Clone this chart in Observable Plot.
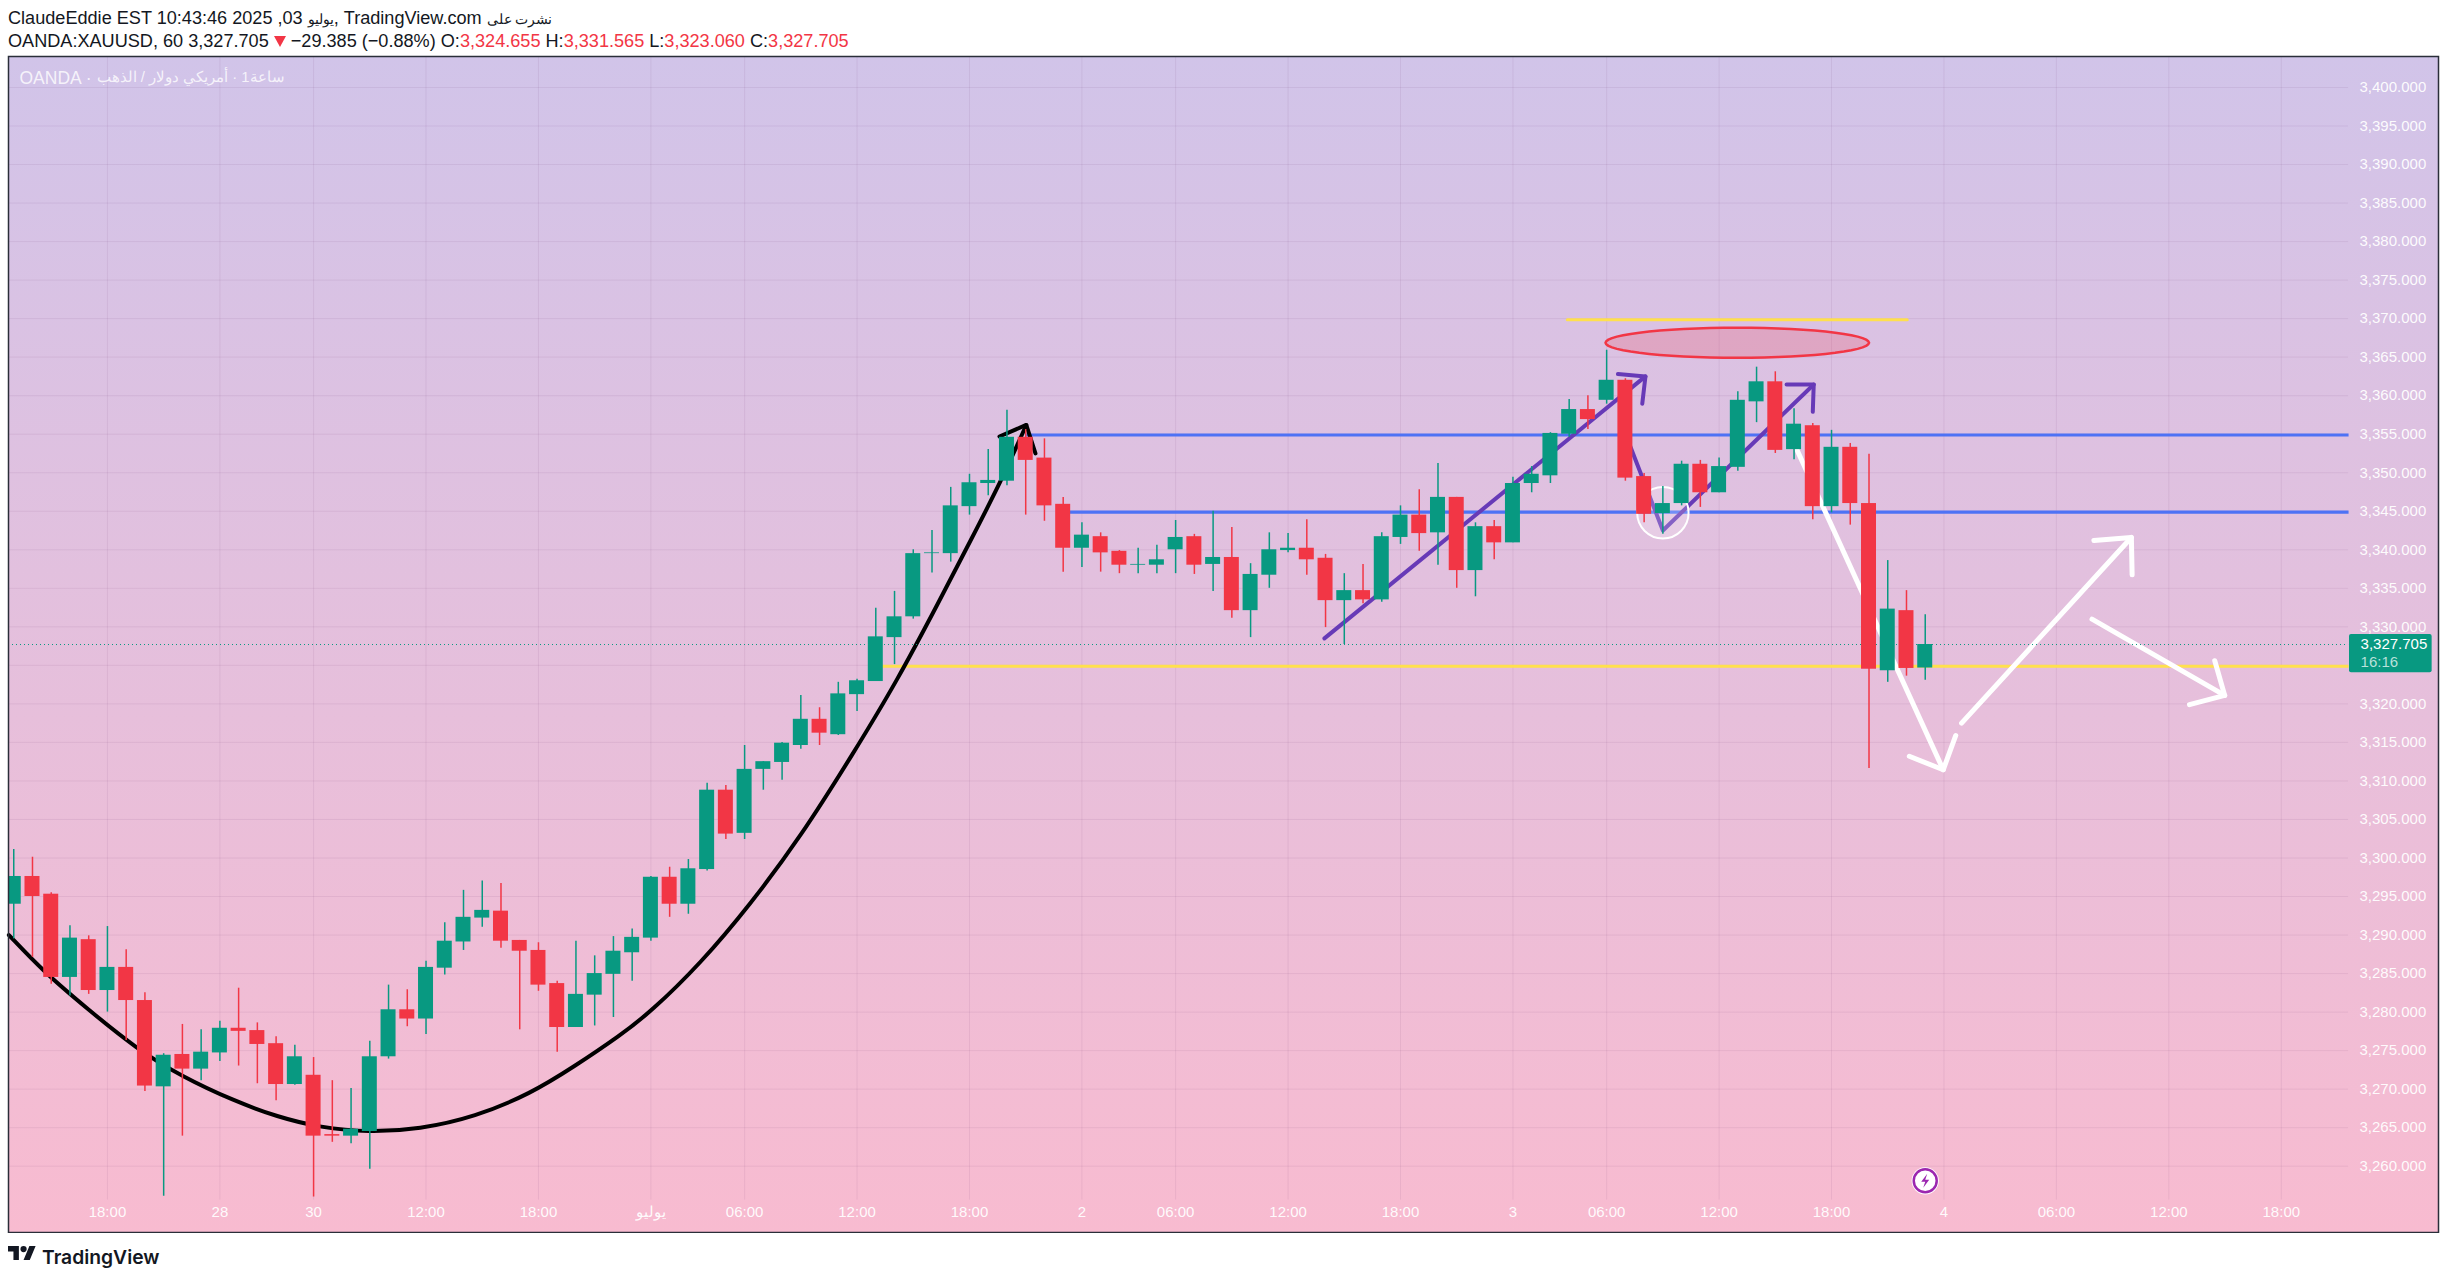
<!DOCTYPE html>
<html>
<head>
<meta charset="utf-8">
<script src="https://cdn.jsdelivr.net/npm/d3@7"></script>
<script src="https://cdn.jsdelivr.net/npm/@observablehq/plot@0.6"></script>
<style>
html,body{margin:0;padding:0;background:#fff;width:2447px;height:1279px;overflow:hidden;font-family:"Liberation Sans",Arial,sans-serif;color:#131722}
#head{position:relative;height:55px;font-size:18.12px;line-height:23px}
#head div{position:absolute;left:8px;white-space:nowrap}
#head bdi{font-size:13.5px}
#l1{top:7px}#l2{top:30px}
#head b{font-weight:400;color:#F23645}
#head svg{vertical-align:0px}
#chart{height:1178px}
#chart svg{display:block}
#foot{position:relative;height:46px}
#foot svg{position:absolute;left:8px;top:13px}
#foot span{position:absolute;left:42px;top:10px;font:600 19.3px/28px Inter,"Liberation Sans",sans-serif;color:#131722}
</style>
</head>
<body>
<div id="head">
<div id="l1">ClaudeEddie EST 10:43:46 2025 ,03 <bdi>يوليو</bdi>, TradingView.com <bdi>نشرت على</bdi></div>
<div id="l2">OANDA:XAUUSD, 60 3,327.705 <svg width="12" height="11" viewBox="0 0 12 11"><path fill="#F23645" d="M0 0h12L6 11z"/></svg> −29.385 (−0.88%) O:<b>3,324.655</b> H:<b>3,331.565</b> L:<b>3,323.060</b> C:<b>3,327.705</b></div>
</div>
<div id="chart"></div>
<div id="foot">
<svg width="28" height="14" viewBox="0 4 36 18"><path fill="#131722" d="M14 22H7V11H0V4h14v18zM28 22h-8l7.5-18h8L28 22z"/><circle fill="#131722" cx="20" cy="8" r="4"/></svg>
<span>TradingView</span>
</div>
<script>
// hourly candles
const opens = [3294.0,3297.6,3295.3,3284.5,3289.4,3282.8,3285.8,3281.5,3270.3,3274.5,3272.6,3274.7,3277.9,3277.6,3275.9,3270.6,3271.8,3264.1,3263.9,3264.5,3274.2,3280.3,3279.1,3285.7,3289.1,3292.2,3293.1,3289.3,3288.0,3283.7,3278.0,3282.2,3284.9,3287.7,3289.6,3297.5,3294.0,3298.5,3308.8,3303.2,3311.5,3312.4,3314.6,3318.0,3316.0,3321.2,3322.9,3328.6,3331.3,3339.5,3339.5,3345.6,3348.6,3348.9,3354.6,3351.9,3345.9,3340.2,3341.7,3339.8,3338.0,3338.0,3340.0,3341.7,3338.1,3339.0,3332.1,3336.7,3339.9,3340.2,3338.9,3333.4,3334.7,3333.5,3341.6,3344.5,3342.2,3346.8,3337.3,3343.0,3340.9,3348.6,3349.6,3355.0,3358.2,3359.4,3362.0,3349.5,3344.7,3346.0,3351.1,3347.4,3350.7,3359.2,3361.8,3353.0,3356.1,3345.6,3353.3,3346.0,3324.3,3332.1,3324.655];
const highs = [3301.1,3300.1,3295.5,3291.2,3289.9,3291.1,3288.1,3282.5,3274.6,3278.4,3277.7,3278.8,3283.1,3278.6,3276.8,3275.7,3274.1,3271.1,3270.1,3276.2,3283.5,3282.9,3286.6,3291.6,3295.8,3297.0,3296.7,3289.3,3289.0,3284.0,3289.2,3287.3,3289.8,3290.8,3297.6,3298.8,3299.8,3309.7,3309.4,3314.6,3312.5,3315.0,3321.1,3319.5,3322.8,3323.2,3332.4,3334.6,3340.0,3342.5,3348.1,3349.8,3353.0,3358.1,3355.6,3354.4,3346.8,3343.5,3342.2,3339.9,3340.2,3340.6,3343.8,3342.0,3345.0,3342.9,3338.2,3342.2,3342.1,3343.9,3339.4,3336.9,3338.1,3342.2,3345.7,3347.8,3351.2,3346.8,3343.5,3343.8,3349.4,3350.8,3355.2,3359.5,3360.0,3365.9,3362.2,3349.9,3348.2,3351.5,3351.6,3351.9,3360.5,3363.7,3363.1,3358.3,3356.4,3355.5,3353.8,3352.4,3338.6,3334.7,3331.565];
const lows = [3289.5,3287.1,3283.6,3282.1,3282.3,3280.0,3276.3,3269.7,3256.1,3263.9,3271.1,3273.6,3273.0,3270.7,3268.5,3270.5,3256.0,3263.1,3262.9,3259.6,3273.9,3278.1,3277.1,3284.8,3288.0,3291.0,3288.3,3277.7,3282.7,3274.8,3278.0,3278.2,3279.3,3284.0,3289.2,3292.3,3292.7,3298.3,3302.4,3302.4,3308.8,3310.1,3314.1,3314.6,3315.9,3319.0,3322.9,3325.1,3331.0,3337.0,3338.4,3344.5,3347.0,3348.3,3344.5,3343.7,3337.1,3337.7,3337.1,3336.9,3336.9,3336.9,3336.9,3336.8,3334.6,3331.1,3328.6,3335.0,3339.6,3336.7,3329.9,3327.7,3333.0,3333.2,3340.7,3339.8,3338.0,3335.0,3333.9,3338.7,3340.9,3347.4,3348.6,3354.6,3355.6,3358.9,3348.9,3343.5,3342.0,3345.7,3345.5,3347.4,3350.2,3356.5,3352.5,3351.7,3343.9,3344.8,3343.2,3311.6,3322.8,3323.6,3323.06];
const closes = [3297.6,3295.0,3284.5,3289.6,3282.8,3285.8,3281.5,3270.4,3274.4,3272.6,3274.8,3277.9,3277.5,3275.8,3270.6,3274.2,3263.9,3263.9,3264.8,3274.2,3280.3,3279.1,3285.8,3289.2,3292.3,3293.2,3289.2,3287.9,3283.5,3278.0,3282.3,3285.0,3287.9,3289.7,3297.5,3294.0,3298.6,3308.8,3303.1,3311.5,3312.5,3314.9,3318.0,3316.2,3321.3,3323.0,3328.7,3331.3,3339.5,3339.6,3345.7,3348.7,3349.0,3354.6,3351.6,3345.7,3340.2,3341.9,3339.6,3338.0,3338.1,3338.7,3341.6,3338.0,3339.0,3332.1,3336.8,3340.0,3340.2,3338.7,3333.4,3334.7,3333.5,3341.7,3344.5,3342.1,3346.8,3337.3,3343.0,3340.9,3348.6,3349.8,3355.1,3358.2,3356.9,3362.0,3349.3,3344.6,3346.0,3351.1,3347.4,3350.8,3359.4,3361.8,3352.9,3356.3,3345.6,3353.3,3346.0,3324.5,3332.3,3324.6,3327.705];

// axes
const gridPrices = [3260,3265,3270,3275,3280,3285,3290,3295,3300,3305,3310,3315,3320,3325,3330,3335,3340,3345,3350,3355,3360,3365,3370,3375,3380,3385,3390,3395,3400];
const labelledPrices = [3260,3265,3270,3275,3280,3285,3290,3295,3300,3305,3310,3315,3320,3330,3335,3340,3345,3350,3355,3360,3365,3370,3375,3380,3385,3390,3395,3400];
const timeTickBars = [5,11,16,22,28,34,39,45,51,57,62,68,74,80,85,91,97,103,109,115,121];
const timeTickLabels = ["18:00","28","30","12:00","18:00","يوليو","06:00","12:00","18:00","2","06:00","12:00","18:00","3","06:00","12:00","18:00","4","06:00","12:00","18:00"];

// drawings, as [bar, price]
const blackCurve = [[-0.26,3290.0],[1.61,3285.2],[3.94,3280.4],[6.57,3275.2],[9.0,3271.6],[11.74,3268.5],[14.06,3266.4],[16.38,3265.0],[18.91,3264.4],[21.66,3264.8],[24.61,3266.4],[27.57,3269.4],[29.89,3272.9],[32.38,3277.0],[33.98,3280.0],[36.65,3286.3],[39.31,3294.0],[41.98,3302.7],[44.83,3313.7],[47.14,3323.0],[49.4,3333.4],[51.06,3341.2],[52.71,3349.0],[54.03,3356.2]];
const blackHead = [[52.6,3354.7],[54.03,3356.2],[54.52,3352.5]];
const purpleUp = [[69.94,3328.5],[87.07,3362.5]];
const purpleUpHead = [[85.6,3362.8],[87.07,3362.5],[86.9,3358.95]];
const purpleV = [[86.0,3355.05],[88.0,3342.5],[96.05,3361.45]];
const purpleVHead = [[94.6,3361.45],[96.05,3361.45],[96.0,3357.9]];
const whiteDown = [[95.0,3353.8],[102.96,3311.45]];
const whiteDownHead = [[101.15,3313.2],[102.96,3311.45],[103.63,3315.9]];
const whiteUp = [[103.94,3317.5],[113.0,3341.6]];
const whiteUpHead = [[111.0,3341.2],[113.0,3341.6],[113.04,3336.75]];
const whiteSide = [[110.9,3331.0],[117.98,3321.1]];
const whiteSideHead = [[117.45,3325.6],[117.98,3321.1],[116.1,3319.9]];
const upperBlue = [[54.03,3354.9],[124.59,3354.9]];
const lowerBlue = [[56,3344.9],[124.59,3344.9]];
const mainYellow = [[46,3324.9],[124.59,3324.9]];
const topYellow = [[82.9,3369.85],[101.04,3369.85]];
const ellipseCentre = [91.97,3366.87], ellipseRadii = [7.03,1.95];
const circleCentre = [88.0,3344.8];
const badgeCentre = [102,3258.1];
const bolt = [[102.107,3259.01],[101.787,3257.97],[102,3257.97],[101.893,3257.19],[102.213,3258.23],[102,3258.23],[102.107,3259.01]];
const lastPrice = 3327.705;

const UP = "#089981", DOWN = "#F23645", FONT = '"Liberation Sans",Arial,sans-serif';
const candles = opens.map((o,i)=>({i,open:o,high:highs[i],low:lows[i],close:closes[i],color:closes[i]>=o?UP:DOWN}));
const ellipse = d3.range(0,361,6).map(a=>[ellipseCentre[0]+ellipseRadii[0]*Math.cos(a*Math.PI/180),ellipseCentre[1]+ellipseRadii[1]*Math.sin(a*Math.PI/180)]);
const lab = new Map(timeTickBars.map((b,i)=>[b,timeTickLabels[i]]));
const path = (pts,stroke,strokeWidth,extra={}) => Plot.line(pts,{x:d=>d[0],y:d=>d[1],stroke,strokeWidth,strokeLinecap:"round",strokeLinejoin:"round",...extra});
const defs = () => { const d = d3.create("svg:defs"); const g = d.append("linearGradient").attr("id","bg").attr("x1",0).attr("x2",0).attr("y1",0).attr("y2",1);
  g.append("stop").attr("offset",0).attr("stop-color","#D1C4E9"); g.append("stop").attr("offset",1).attr("stop-color","#F8BBD0"); return d.node(); };
const GRID = "rgba(110,50,110,0.09)";
const XL = -0.28, GRIDEND = 124.59;

const chart = Plot.plot({
  width:2447,height:1178,marginLeft:8,marginRight:9,marginTop:1,marginBottom:1,
  style:{background:"transparent",fontFamily:FONT},
  x:{domain:[XL,129.389]},
  y:{domain:[3251.395,3404.02]},
  marks:[
    defs,
    Plot.frame({fill:"url(#bg)",stroke:"none"}),
    Plot.ruleY(gridPrices,{x1:XL,x2:GRIDEND,stroke:GRID,strokeWidth:1}),
    Plot.ruleX(timeTickBars,{y1:3255.6,y2:3404.02,stroke:GRID,strokeWidth:1}),
    Plot.text(["OANDA ·"],{frameAnchor:"top-left",dx:11,dy:15,fill:"#fff",fillOpacity:0.8,fontSize:17.5,textAnchor:"start"}),
    Plot.text(["\u2068الذهب\u2069 / \u2068دولار\u2069 \u2068أمريكي\u2069 · 1\u2068ساعة\u2069"],{frameAnchor:"top-left",dx:88,dy:15,fill:"#fff",fillOpacity:0.8,fontSize:14.9,textAnchor:"start"}),
    path(topYellow,"#FFE04D",3),
    path(mainYellow,"#FFE04D",3,{strokeLinecap:"butt"}),
    path(upperBlue,"#4E72F5",3.2,{strokeLinecap:"butt"}),
    path(lowerBlue,"#4E72F5",3.2,{strokeLinecap:"butt"}),
    Plot.line(ellipse,{x:d=>d[0],y:d=>d[1],stroke:"#F23645",strokeWidth:2.5,fill:"#F23645",fillOpacity:0.2}),
    path(blackCurve,"#000",4,{curve:"basis"}),
    path(blackHead,"#000",4),
    path(purpleUp,"#673AB7",4),
    path(purpleUpHead,"#673AB7",4),
    path(purpleV,"#673AB7",4),
    path(purpleVHead,"#673AB7",4),
    Plot.dot([circleCentre],{x:d=>d[0],y:d=>d[1],r:25.7,stroke:"#fff",strokeWidth:2,fill:"#fff",fillOpacity:0.2}),
    path(whiteDown,"#fff",5),
    path(whiteDownHead,"#fff",5),
    path(whiteUp,"#fff",5),
    path(whiteUpHead,"#fff",5),
    path(whiteSide,"#fff",5),
    path(whiteSideHead,"#fff",5),
    Plot.ruleY([lastPrice],{x1:XL,x2:GRIDEND,stroke:UP,strokeWidth:1,strokeDasharray:"1 3"}),
    Plot.ruleX(candles,{x:"i",y1:"low",y2:"high",stroke:"color",strokeWidth:1.5,clip:"frame"}),
    Plot.rect(candles,{x1:d=>d.i-0.4,x2:d=>d.i+0.4,y1:"open",y2:"close",fill:"color",clip:"frame"}),
    Plot.axisY({anchor:"right",ticks:labelledPrices,tickSize:0,tickPadding:-79,label:null,tickFormat:d3.format(",.3f"),fill:"#fff",fillOpacity:0.95,fontSize:15,stroke:"none"}),
    Plot.axisX({anchor:"bottom",ticks:timeTickBars,tickSize:0,tickPadding:-26,label:null,tickFormat:d=>lab.get(d),fill:"#fff",fillOpacity:0.95,fontSize:15,stroke:"none"}),
    Plot.rect([0],{x1:124.64,x2:129.05,y1:3324.04,y2:3329.0,fill:UP,rx:2}),
    Plot.text(["3,327.705"],{x:125.23,y:lastPrice,fill:"#fff",fontSize:15,textAnchor:"start"}),
    Plot.text(["16:16"],{x:125.23,y:3325.46,fill:"#fff",fillOpacity:0.72,fontSize:15,textAnchor:"start"}),
    Plot.dot([badgeCentre],{x:d=>d[0],y:d=>d[1],r:13.6,fill:"#fff"}),
    Plot.dot([badgeCentre],{x:d=>d[0],y:d=>d[1],r:11.5,fill:"#fff",stroke:"#9C27B0",strokeWidth:2.5}),
    Plot.line(bolt,{x:d=>d[0],y:d=>d[1],fill:"#9C27B0",stroke:"none"}),
    Plot.frame({stroke:"#2a2e39",strokeWidth:1.5})
  ]
});
document.getElementById("chart").append(chart);
</script>
</body>
</html>
